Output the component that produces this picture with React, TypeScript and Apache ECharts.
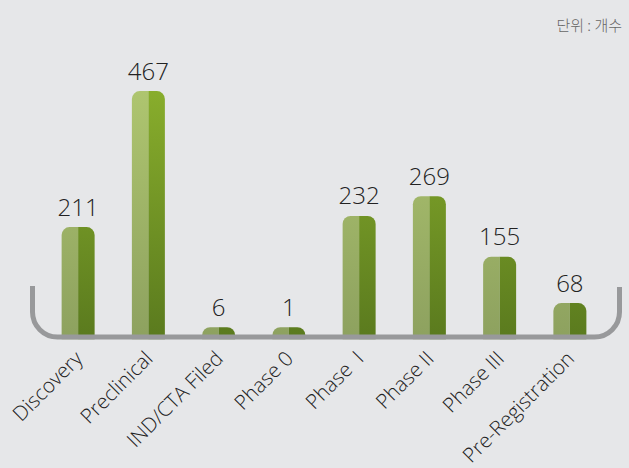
import React, { useEffect, useRef } from "react";
import * as echarts from "echarts";

const categories = ["Discovery", "Preclinical", "IND/CTA Filed", "Phase 0", "Phase  I", "Phase II", "Phase III", "Pre-Registration"];
const counts = [211, 467, 6, 1, 232, 269, 155, 68];
const unitLabel = "단위 : 개수";

echarts.graphic.registerShape(
  "bracket",
  echarts.graphic.extendPath(
    "M32.5 286 L32.5 312 C32.5 325.8 43.7 337 57.5 337 L594.5 337 C608.3 337 619.5 325.8 619.5 312 L619.5 287",
    {}
  )
);

export default function App() {
  const ref = useRef<HTMLDivElement>(null);
  useEffect(() => {
    const chart = echarts.init(ref.current!, null, { renderer: "svg" });
    const lightGrad = () =>
      new echarts.graphic.LinearGradient(0, 91, 0, 340, [
        { offset: 0, color: "#aec56f" },
        { offset: 1, color: "#8da15f" },
      ], true);
    const darkGrad = () =>
      new echarts.graphic.LinearGradient(0, 91, 0, 340, [
        { offset: 0, color: "#88ad2c" },
        { offset: 1, color: "#5a7a1e" },
      ], true);
    chart.setOption({
      animation: false,
      backgroundColor: "#e6e7e9",
      grid: { left: 43, right: 24, top: 73.5, bottom: 128 },
      xAxis: {
        type: "category",
        data: categories,
        axisLine: { show: false },
        axisTick: { show: false },
        axisLabel: {
          rotate: 45,
          interval: 0,
          margin: 15,
          fontSize: 20.5,
          fontWeight: 300,
          color: "#222",
          fontFamily: "Open Sans",
        },
      },
      yAxis: { type: "value", min: 0, max: 500, show: false, splitLine: { show: false } },
      graphic: [
        {
          type: "bracket",
          x: 0,
          y: 0,
          z: 10,
          style: { fill: "none", stroke: "#98999b", lineWidth: 5 },
        },
        {
          type: "text",
          right: 7,
          top: 17,
          style: { text: unitLabel, fontSize: 15, fill: "#666", fontWeight: 300, fontFamily: "Noto Sans CJK KR" },
        },
      ],
      series: [
        {
          type: "custom",
          data: counts.map((v, i) => [i, v]),
          z: 2,
          renderItem: (params: any, api: any) => {
            const idx = api.value(0);
            const v = api.value(1);
            const top = api.coord([idx, v]);
            const base = api.coord([idx, 0]);
            const w = 33;
            const cx = top[0];
            const h = Math.max(base[1] - top[1], 12);
            const y = base[1] - h;
            const r = 8;
            return {
              type: "group",
              children: [
                {
                  type: "rect",
                  shape: { x: cx - w / 2, y, width: w / 2, height: h, r: [r, 0, 0, 0] },
                  style: { fill: lightGrad() },
                },
                {
                  type: "rect",
                  shape: { x: cx, y, width: w / 2, height: h, r: [0, r, 0, 0] },
                  style: { fill: darkGrad() },
                },
                {
                  type: "text",
                  style: {
                    text: String(v),
                    x: cx,
                    y: y - 9,
                    textAlign: "center",
                    textVerticalAlign: "bottom",
                    fontSize: 24,
                    fontWeight: 300,
                    fill: "#222",
                    fontFamily: "Open Sans",
                  },
                },
              ],
            };
          },
        },
      ],
    });
    return () => chart.dispose();
  }, []);
  return (
    <div
      ref={ref}
      style={{ position: "fixed", left: 0, top: 0, width: 629, height: 468 }}
    />
  );
}
